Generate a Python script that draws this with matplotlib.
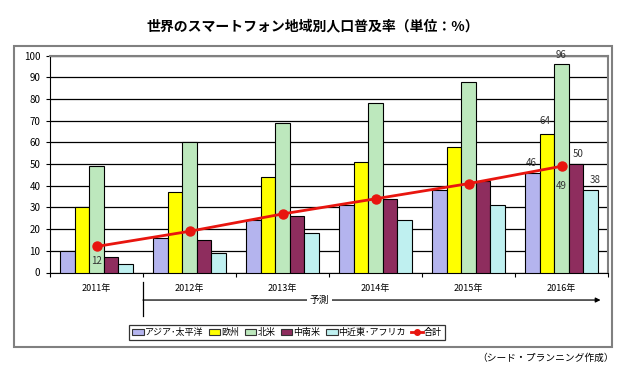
import matplotlib.pyplot as plt
import matplotlib.patches as mpatches
from matplotlib.lines import Line2D
import numpy as np

plt.rcParams['font.family'] = ['Noto Sans CJK JP', 'DejaVu Sans']

# データ
years = ['2011年', '2012年', '2013年', '2014年', '2015年', '2016年']
asia = [10, 16, 24, 31, 38, 46]
europe = [30, 37, 44, 51, 58, 64]
north_america = [49, 60, 69, 78, 88, 96]
latin_america = [7, 15, 26, 34, 42, 50]
mea = [4, 9, 18, 24, 31, 38]
total = [12, 19, 27, 34, 41, 49]

series_names = ['アジア･太平洋', '欧州', '北米', '中南米', '中近東･アフリカ']
series_vals = [asia, europe, north_america, latin_america, mea]
colors = ['#b4b4ee', '#ffff00', '#bde8bd', '#8e2d5e', '#bff0f0']

fig = plt.figure(figsize=(6.25, 3.77), dpi=100)

# 外枠
frame = mpatches.Rectangle((14 / 625, 1 - 347 / 377), 598 / 625, 301 / 377,
                           transform=fig.transFigure, fill=False,
                           edgecolor='#808080', linewidth=1.5)
fig.patches.append(frame)

ax = fig.add_axes([50 / 625, 1 - 272.5 / 377, 558 / 625, 216.8 / 377])

x = np.arange(len(years))
w = 0.155
for i, (vals, c) in enumerate(zip(series_vals, colors)):
    ax.bar(x + (i - 2) * w, vals, width=w, color=c, edgecolor='black',
           linewidth=0.8, zorder=3)

ax.plot(x, total, color='#e8150f', linewidth=2, marker='o', markersize=6.5,
        zorder=5)

ax.set_ylim(0, 100)
ax.set_xlim(-0.5, 5.5)
ax.set_yticks(range(0, 101, 10))
ax.tick_params(axis='y', labelsize=7, length=3, pad=4)
ax.yaxis.grid(True, color='black', linewidth=0.9, zorder=0)
ax.set_axisbelow(True)

ax.set_xticks(x)
ax.set_xticklabels(years, fontsize=6.5)
ax.tick_params(axis='x', length=0, pad=8)
ax.set_xticks(np.arange(-0.5, 6, 1), minor=True)
ax.tick_params(axis='x', which='minor', length=3, width=0.8)

for s in ['top', 'right']:
    ax.spines[s].set_color('#808080')
    ax.spines[s].set_linewidth(1.5)
ax.spines['left'].set_color('black')
ax.spines['bottom'].set_color('black')

# データラベル
lbl = dict(fontsize=7, color='#333333', ha='center', va='center', zorder=6)
ax.text(0.0, 5.5, str(total[0]), **lbl)
ax.text(5 - 2 * w - 0.02, 50.5, str(asia[5]), **lbl)
ax.text(5 - w - 0.02, 70, str(europe[5]), **lbl)
ax.text(5, 100.5, str(north_america[5]), **lbl)
ax.text(5 + w + 0.02, 54.5, str(latin_america[5]), **lbl)
ax.text(5 + 2 * w + 0.05, 42.5, str(mea[5]), **lbl)
ax.text(5, 40, str(total[5]), **lbl)

# 予測の矢印
ax.plot([0.5, 0.5], [-0.044, -0.2], color='black', linewidth=0.9,
        transform=ax.get_xaxis_transform(), clip_on=False)
ax.annotate('', xy=(5.42, -0.127), xytext=(0.5, -0.127),
            xycoords=ax.get_xaxis_transform(),
            textcoords=ax.get_xaxis_transform(),
            arrowprops=dict(arrowstyle='-|>', color='black', lw=0.9,
                            mutation_scale=7, shrinkA=0, shrinkB=0))
ax.text(2.4, -0.127, '予測', transform=ax.get_xaxis_transform(),
        fontsize=7, ha='center', va='center',
        bbox=dict(facecolor='white', edgecolor='none', pad=2))

# 凡例
handles = [mpatches.Patch(facecolor=c, edgecolor='#333333', linewidth=0.8)
           for c in colors]
handles.append(Line2D([], [], color='#e8150f', linewidth=2, marker='o',
                      markersize=4))
leg = fig.legend(handles, series_names + ['合計'], ncol=6,
                 loc='center', bbox_to_anchor=(287 / 625, 1 - 332.5 / 377),
                 fontsize=6.5, frameon=True, fancybox=False, edgecolor='black',
                 handlelength=1.3, handleheight=0.6, handletextpad=0.1,
                 columnspacing=0.6, borderpad=0.35)
leg.get_frame().set_linewidth(0.9)

fig.text(0.5, 1 - 26 / 377, '世界のスマートフォン地域別人口普及率（単位：%）',
         ha='center', va='center', fontsize=10, fontweight='bold')
fig.text(614 / 625, 1 - 358 / 377, '（シード・プランニング作成）',
         ha='right', va='center', fontsize=7)

fig.savefig('out.png', dpi=100)
